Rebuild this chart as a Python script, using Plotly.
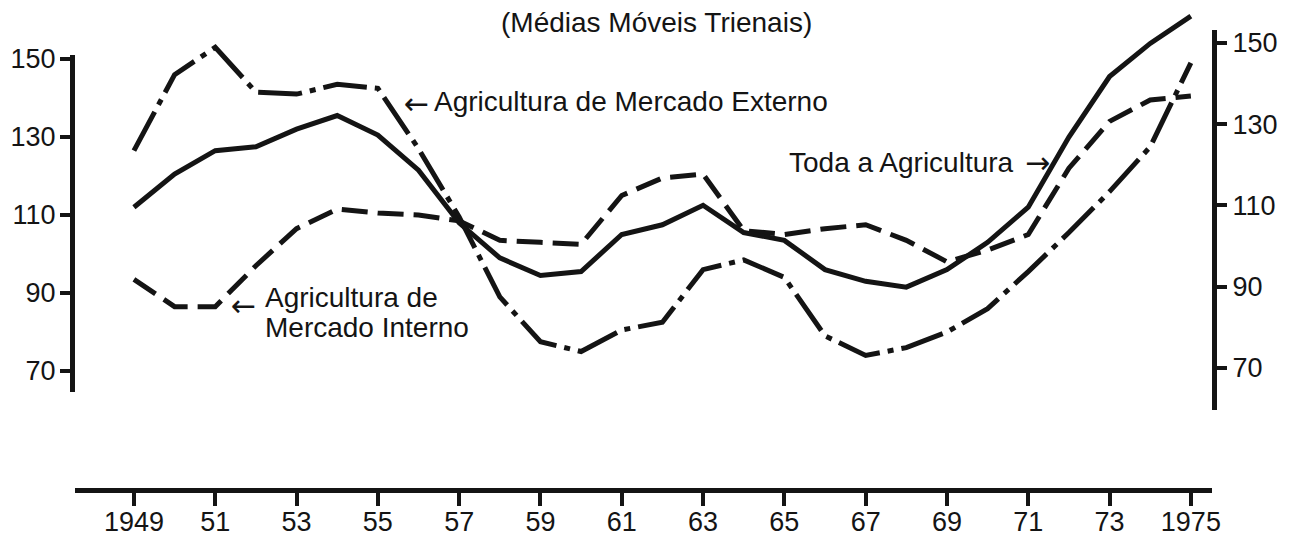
import plotly.graph_objects as go

# ---- data ----
years = list(range(1949, 1976))
toda_agricultura = [112, 120.5, 126.5, 127.5, 132, 135.5, 130.5, 121.5, 108, 99, 94.5, 95.5,
                    105, 107.5, 112.5, 105.5, 103.5, 96, 93, 91.5, 96, 103, 112, 130, 145.5, 154, 161]
mercado_externo = [126.5, 146, 153, 141.5, 141, 143.5, 142.5, 127, 109.5, 89, 77.5, 75,
                   80.5, 82.5, 96, 98.5, 94, 79, 74, 76, 80, 86, 95.5, 105.5, 116, 127.5, 149]
mercado_interno = [93.5, 86.5, 86.5, 97, 106.5, 111.5, 110.5, 110, 108.5, 103.5, 103, 102.5,
                   115, 119.5, 120.5, 106, 105, 106.5, 107.5, 103.5, 98, 101, 105, 122, 134, 139.5, 140.5]
x_tickvals = list(range(1949, 1976, 2))
x_ticktext = ["1949", "51", "53", "55", "57", "59", "61", "63", "65", "67", "69", "71", "73", "1975"]
y_tickvals = [70, 90, 110, 130, 150]

INK = "#141414"
FONT = "Liberation Sans, Arial, Helvetica, sans-serif"

fig = go.Figure()
fig.add_trace(go.Scatter(x=years, y=mercado_externo, mode="lines", name="Agricultura de Mercado Externo",
                         line=dict(color=INK, width=5, dash="44px,8px,6px,8px"), yaxis="y"))
fig.add_trace(go.Scatter(x=years, y=mercado_interno, mode="lines", name="Agricultura de Mercado Interno",
                         line=dict(color=INK, width=5, dash="26px,10px"), yaxis="y"))
fig.add_trace(go.Scatter(x=years, y=toda_agricultura, mode="lines", name="Toda a Agricultura",
                         line=dict(color=INK, width=5), yaxis="y"))
# carriers for the two drawn index scales
fig.add_trace(go.Scatter(x=[], y=[], yaxis="y2", showlegend=False, hoverinfo="skip"))
fig.add_trace(go.Scatter(x=[], y=[], yaxis="y3", showlegend=False, hoverinfo="skip"))

# the page body has an 8px default margin: work in page pixels and shift
OFF = 8
W, H = 1296 - OFF, 537 - OFF
PLOT_L, PLOT_R, PLOT_T, PLOT_B = 75, 1212, 8, 488      # page pixels
L, R, T, B = PLOT_L - OFF, W - (PLOT_R - OFF), PLOT_T - OFF, H - (PLOT_B - OFF)
PW, PH = PLOT_R - PLOT_L, PLOT_B - PLOT_T


def px_x(px):
    return (px - PLOT_L) / PW


def px_y(py):
    return (PLOT_B - py) / PH


axis_common = dict(showline=True, linewidth=5, linecolor=INK, ticks="outside", tickwidth=4,
                   tickcolor=INK, showgrid=False, zeroline=False, automargin=False,
                   tickfont=dict(family=FONT, size=27, color=INK), fixedrange=True)

fig.update_layout(
    width=W, height=H,
    margin=dict(l=L, r=R, t=T, b=B, autoexpand=False),
    paper_bgcolor="white", plot_bgcolor="rgba(0,0,0,0)",
    showlegend=False,
    font=dict(family=FONT, color=INK),
    xaxis=dict(domain=[0, 1], range=[1947.55, 1975.52], anchor="y",
               tickvals=x_tickvals, ticktext=x_ticktext, ticklen=13, ticklabelstandoff=-7,
               **axis_common),
    yaxis=dict(domain=[0, 1], range=[40.0, 163.08], visible=False, fixedrange=True),
    yaxis2=dict(domain=[px_y(392), px_y(55)], range=[64.6, 151.0], anchor="x", side="left",
                tickvals=y_tickvals, ticklen=10, ticklabelstandoff=-1, **axis_common),
    yaxis3=dict(domain=[px_y(410), px_y(30)], range=[59.65, 153.2], anchor="x", side="right",
                tickvals=y_tickvals, ticklen=10, **axis_common),
)

ann_font = dict(family=FONT, size=28, color=INK)
arrow_font = dict(family="DejaVu Sans, sans-serif", size=30, color=INK)
annotations = [
    dict(text="(Médias Móveis Trienais)", x=px_x(656), y=px_y(22), xanchor="center", yanchor="middle", font=ann_font),
    dict(text="←", x=px_x(416), y=px_y(104), xanchor="center", yanchor="middle", font=arrow_font),
    dict(text="Agricultura de Mercado Externo", x=px_x(432), y=px_y(102), xanchor="left", yanchor="middle", font=ann_font),
    dict(text="Agricultura de", x=px_x(263), y=px_y(297), xanchor="left", yanchor="middle", font=ann_font),
    dict(text="Mercado Interno", x=px_x(263), y=px_y(327), xanchor="left", yanchor="middle", font=ann_font),
    dict(text="←", x=px_x(243), y=px_y(305), xanchor="center", yanchor="middle", font=arrow_font),
    dict(text="Toda a Agricultura", x=px_x(787), y=px_y(163), xanchor="left", yanchor="middle", font=ann_font),
    dict(text="→", x=px_x(1037), y=px_y(163), xanchor="center", yanchor="middle", font=arrow_font),
]
for a in annotations:
    a.update(xref="paper", yref="paper", showarrow=False)
fig.update_layout(annotations=annotations)

fig.write_html("out.html")
